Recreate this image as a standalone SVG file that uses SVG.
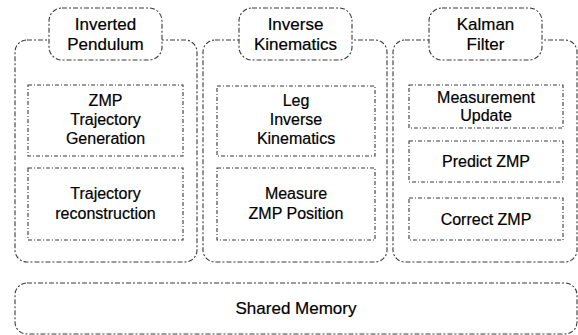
<svg xmlns="http://www.w3.org/2000/svg" width="578" height="335" viewBox="0 0 578 335">
  <style>
    .frame { fill: none; stroke: #3a3a3a; stroke-width: 1.1; stroke-dasharray: 5 2 2 2; }
    .tab { fill: #ffffff; stroke: #3a3a3a; stroke-width: 1.1; stroke-dasharray: 5 2 2 2; }
    .box { fill: none; stroke: #3a3a3a; stroke-width: 1.1; stroke-dasharray: 4 2 1 2; }
    .t { font-family: "Liberation Sans", Arial, sans-serif; font-size: 16px; fill: #000; stroke: #000; stroke-width: 0.2; text-anchor: middle; }
    .h { font-family: "Liberation Sans", Arial, sans-serif; font-size: 17px; fill: #000; stroke: #000; stroke-width: 0.2; text-anchor: middle; }
  </style>
  <rect width="578" height="335" fill="#ffffff"/>

  <!-- Inverted Pendulum module -->
  <g id="inverted-pendulum">
    <rect class="frame" x="15" y="40" width="182" height="222" rx="12"/>
    <rect class="tab" x="49" y="8" width="113" height="52" rx="13"/>
    <text class="h" x="105.5" y="30">Inverted</text>
    <text class="h" x="105.5" y="50">Pendulum</text>
    <g id="zmp-trajectory-generation">
      <rect class="box" x="28" y="85" width="155" height="71"/>
      <text class="t" x="105.5" y="106">ZMP</text>
      <text class="t" x="105.5" y="125">Trajectory</text>
      <text class="t" x="105.5" y="144">Generation</text>
    </g>
    <g id="trajectory-reconstruction">
      <rect class="box" x="28" y="168" width="155" height="72"/>
      <text class="t" x="105.5" y="199">Trajectory</text>
      <text class="t" x="105.5" y="219">reconstruction</text>
    </g>
  </g>

  <!-- Inverse Kinematics module -->
  <g id="inverse-kinematics">
    <rect class="frame" x="203" y="40" width="184" height="222" rx="12"/>
    <rect class="tab" x="239" y="8" width="113" height="52" rx="13"/>
    <text class="h" x="295.5" y="30">Inverse</text>
    <text class="h" x="295.5" y="50">Kinematics</text>
    <g id="leg-inverse-kinematics">
      <rect class="box" x="217" y="86" width="158" height="70"/>
      <text class="t" x="296" y="106">Leg</text>
      <text class="t" x="296" y="125">Inverse</text>
      <text class="t" x="296" y="144">Kinematics</text>
    </g>
    <g id="measure-zmp-position">
      <rect class="box" x="217" y="168" width="158" height="72"/>
      <text class="t" x="296" y="199">Measure</text>
      <text class="t" x="296" y="219">ZMP Position</text>
    </g>
  </g>

  <!-- Kalman Filter module -->
  <g id="kalman-filter">
    <rect class="frame" x="393" y="40" width="184" height="222" rx="12"/>
    <rect class="tab" x="429" y="8" width="113" height="52" rx="13"/>
    <text class="h" x="485.5" y="30">Kalman</text>
    <text class="h" x="485.5" y="50">Filter</text>
    <g id="measurement-update">
      <rect class="box" x="409" y="85" width="154" height="43"/>
      <text class="t" x="486" y="103">Measurement</text>
      <text class="t" x="486" y="121">Update</text>
    </g>
    <g id="predict-zmp">
      <rect class="box" x="409" y="141" width="154" height="41"/>
      <text class="t" x="486" y="167">Predict ZMP</text>
    </g>
    <g id="correct-zmp">
      <rect class="box" x="409" y="198" width="154" height="42"/>
      <text class="t" x="486" y="225">Correct ZMP</text>
    </g>
  </g>

  <!-- Shared Memory -->
  <g id="shared-memory">
    <rect class="frame" x="15" y="283" width="562" height="51" rx="12"/>
    <text class="h" x="296" y="314">Shared Memory</text>
  </g>

  <!-- no connectors in this diagram -->
  <g id="connectors"/>
</svg>
